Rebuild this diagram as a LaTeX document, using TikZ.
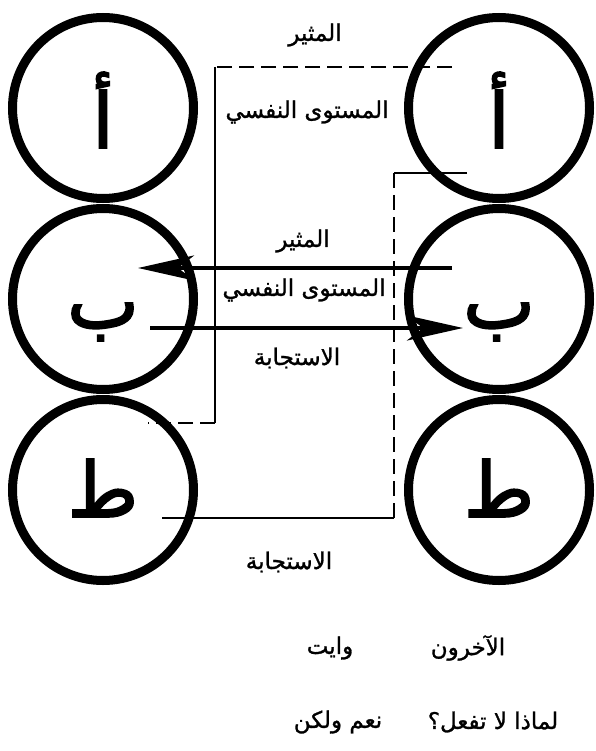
\documentclass[tikz,border=0pt]{standalone}
\usepackage{fontspec}
\usepackage{tikz}
\usetikzlibrary{arrows.meta}
\TeXXeTstate=1
\newfontfamily\arabicfont[Script=Arabic,FakeBold=1.2]{DejaVu Sans}
\newfontfamily\letterfont[Script=Arabic,FakeBold=2.5]{DejaVu Sans}
\newcommand{\artext}[1]{\beginR #1\endR}

\begin{document}
\begin{tikzpicture}[
  x=1pt,y=-1pt,
  egocircle/.style={circle,draw,line width=9pt,minimum size=181pt,inner sep=0pt,font=\letterfont\bfseries\fontsize{76}{76}\selectfont},
  egoletter/.style={font=\letterfont\fontsize{76}{76}\selectfont,inner sep=0pt},
  flowlabel/.style={font=\arabicfont\fontsize{23}{26}\selectfont,inner sep=1pt},
  sidelabel/.style={font=\arabicfont\fontsize{23}{26}\selectfont,inner sep=1pt},
  arr/.style={-{Stealth[length=56pt,width=25pt,inset=16pt]},line width=4.6pt},
  solidlink/.style={line width=2.6pt},
  dashlink/.style={line width=2.6pt,dash pattern=on 15pt off 7pt},
]
\useasboundingbox (0,0) rectangle (595,751);

% Left column (White)
\node[egocircle] (leftA) at (103,108) {};
\node[egocircle] (leftB) at (103,299) {};
\node[egocircle] (leftT) at (103,490) {};
\node[egoletter] (leftAtext) at (103,110) {\artext{أ}};
\node[egoletter] (leftBtext) at (103,322) {\artext{ب}};
\node[egoletter] (leftTtext) at (103,488) {\artext{ط}};

% Right column (the others)
\node[egocircle] (rightA) at (499,108) {};
\node[egocircle] (rightB) at (499,299) {};
\node[egocircle] (rightT) at (499,490) {};
\node[egoletter] (rightAtext) at (499,110) {\artext{أ}};
\node[egoletter] (rightBtext) at (499,322) {\artext{ب}};
\node[egoletter] (rightTtext) at (499,488) {\artext{ط}};

% Outer transaction
\coordinate (stimR) at (452,67);
\coordinate (stimL) at (215,67);
\coordinate (stimD) at (215,423);
\coordinate (stimE) at (148,423);
\draw[dashlink]  (stimR) -- (stimL);
\draw[solidlink] (stimL) -- (stimD);
\draw[dashlink]  (stimD) -- (stimE);

\coordinate (respR) at (467,173);
\coordinate (respC) at (394,173);
\coordinate (respD) at (394,518);
\coordinate (respL) at (162,518);
\draw[solidlink] (respR) -- (respC);
\draw[dashlink]  (respC) -- (respD);
\draw[solidlink] (respD) -- (respL);

% Inner transaction
\coordinate (midR) at (452,268);
\coordinate (midL) at (138,268);
\coordinate (lowL) at (150,328);
\coordinate (lowR) at (463,328);
\draw[arr] (midR) -- (midL);
\draw[arr] (lowL) -- (lowR);

% Labels
\node[flowlabel] (stimTop)  at (315,35)  {\artext{المثير}};
\node[flowlabel] (levelTop) at (307,112) {\artext{المستوى النفسي}};
\node[flowlabel] (stimMid)  at (303,241) {\artext{المثير}};
\node[flowlabel] (levelMid) at (304,290) {\artext{المستوى النفسي}};
\node[flowlabel] (respMid)  at (297,358) {\artext{الاستجابة}};
\node[flowlabel] (respLow)  at (289,562) {\artext{الاستجابة}};

% Captions
\node[sidelabel] (white)  at (330,648) {\artext{وايت}};
\node[sidelabel] (others) at (468,648) {\artext{الآخرون}};
\node[sidelabel] (yesbut) at (338,722) {\artext{نعم ولكن}};
\node[sidelabel] (whynot) at (493,722) {\artext{لماذا لا تفعل؟}};
\end{tikzpicture}
\end{document}
